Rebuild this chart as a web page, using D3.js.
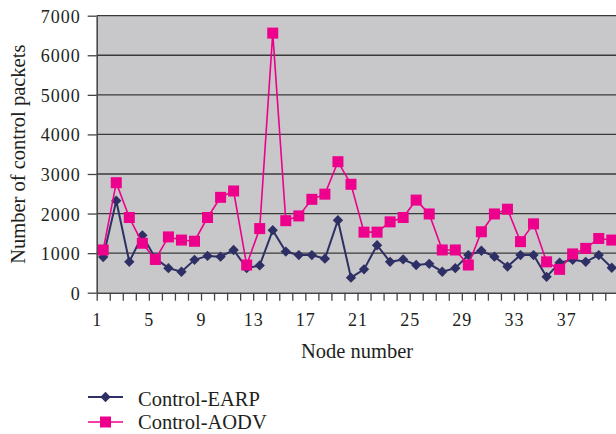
<!DOCTYPE html>
<html>
<head>
<meta charset="utf-8">
<script src="https://cdn.jsdelivr.net/npm/d3@7"></script>
<style>
  body { margin: 0; background: #fff; }
  svg { display: block; font-family: "Liberation Serif", "DejaVu Serif", serif; }
</style>
</head>
<body>
<div id="chart"></div>
<script>
var nodes = d3.range(1, 41);
var earp = [900, 2325, 780, 1450, 870, 620, 530, 830, 930, 910,
            1080, 620, 690, 1580, 1040, 950, 950, 860, 1830, 380,
            590, 1200, 780, 840, 700, 730, 530, 620, 950, 1060,
            910, 660, 950, 950, 400, 760, 830, 780, 950, 630];
var aodv = [1080, 2780, 1900, 1250, 840, 1410, 1330, 1300, 1900, 2410,
            2570, 700, 1620, 6560, 1820, 1940, 2360, 2490, 3310, 2740,
            1530, 1530, 1790, 1900, 2340, 1990, 1080, 1080, 700, 1540,
            1990, 2110, 1290, 1740, 780, 590, 980, 1120, 1370, 1330];
var yTicks = [0, 1000, 2000, 3000, 4000, 5000, 6000, 7000];
var xLabels = [1, 5, 9, 13, 17, 21, 25, 29, 33, 37];
var seriesNames = ["Control-EARP", "Control-AODV"];

var width = 616, height = 434;
var plotLeft = 96.7, plotTop = 15.7, plotBottom = 292.7, step = 13.04;
var plotRight = plotLeft + nodes.length * step;

var navy = "#2e2f64", pink = "#ec008c";

var svg = d3.select("#chart").append("svg")
    .attr("width", width)
    .attr("height", height);

// category edges: node n spans [n, n+1]
var x = d3.scaleLinear().domain([1, nodes.length + 1]).range([plotLeft, plotRight]);
var y = d3.scaleLinear().domain([0, 7000]).range([plotBottom, plotTop]);

svg.append("rect")
    .attr("x", plotLeft).attr("y", plotTop)
    .attr("width", plotRight - plotLeft).attr("height", plotBottom - plotTop)
    .attr("fill", "#c8c8ca");

svg.append("g").selectAll("line")
    .data(yTicks.slice(1))
    .enter().append("line")
    .attr("x1", plotLeft).attr("x2", plotRight)
    .attr("y1", function(d) { return y(d); })
    .attr("y2", function(d) { return y(d); })
    .attr("stroke", "#3a3a3a")
    .attr("stroke-width", 1.3);

var yAxis = svg.append("g")
    .attr("transform", "translate(" + plotLeft + ",0)")
    .call(d3.axisLeft(y).tickValues(yTicks).tickFormat(d3.format("d"))
        .tickSize(9).tickSizeOuter(0).tickPadding(7));
yAxis.select(".domain").attr("stroke", "#444").attr("stroke-width", 1.5);
yAxis.selectAll(".tick line").attr("stroke", "#444").attr("stroke-width", 1.3);
yAxis.selectAll("text")
    .attr("font-size", 18).attr("fill", "#231f20")
    .attr("letter-spacing", 1).attr("dy", "0.36em")
    .style("font-family", "Liberation Serif, serif");

var xAxis = svg.append("g")
    .attr("transform", "translate(0," + plotBottom + ")")
    .call(d3.axisBottom(x).tickValues(d3.range(1, nodes.length + 2))
        .tickSize(8).tickSizeOuter(0).tickPadding(13)
        .tickFormat(function(d) { return xLabels.indexOf(d) >= 0 ? d : ""; }));
xAxis.select(".domain").attr("stroke", "#444").attr("stroke-width", 1.5);
xAxis.selectAll(".tick line").attr("stroke", "#444").attr("stroke-width", 1.3);
xAxis.selectAll("text")
    .attr("font-size", 18).attr("fill", "#231f20")
    .attr("letter-spacing", 1)
    .style("font-family", "Liberation Serif, serif");

var line = d3.line()
    .x(function(d, i) { return x(nodes[i] + 0.5); })
    .y(function(d) { return y(d); });

function diamond(g, cx, cy) {
    g.append("path")
        .attr("d", d3.symbol().type(d3.symbolDiamond2).size(68)())
        .attr("transform", "translate(" + cx + "," + cy + ")")
        .attr("fill", navy);
}

svg.append("path").datum(earp)
    .attr("d", line).attr("fill", "none")
    .attr("stroke", navy).attr("stroke-width", 2);

var earpPts = svg.append("g");
earp.forEach(function(d, i) { diamond(earpPts, x(nodes[i] + 0.5), y(d)); });

svg.append("path").datum(aodv)
    .attr("d", line).attr("fill", "none")
    .attr("stroke", pink).attr("stroke-width", 1.6);

svg.append("g").selectAll("rect")
    .data(aodv)
    .enter().append("rect")
    .attr("x", function(d, i) { return x(nodes[i] + 0.5) - 5.5; })
    .attr("y", function(d) { return y(d) - 5.5; })
    .attr("width", 11).attr("height", 11)
    .attr("fill", pink);

svg.append("text")
    .attr("x", 357).attr("y", 358)
    .attr("text-anchor", "middle")
    .attr("font-size", 20.5).attr("fill", "#231f20")
    .text("Node number");

svg.append("text")
    .attr("transform", "translate(25," + ((plotTop + plotBottom) / 2) + ") rotate(-90)")
    .attr("text-anchor", "middle")
    .attr("font-size", 20.5).attr("fill", "#231f20")
    .text("Number of control packets");

// legend
var legendRows = [
    { name: seriesNames[0], color: navy, ly: 397, ty: 406 },
    { name: seriesNames[1], color: pink, ly: 422, ty: 429 }
];
var legend = svg.append("g");
legendRows.forEach(function(r, i) {
    legend.append("line")
        .attr("x1", 88).attr("x2", 123)
        .attr("y1", r.ly).attr("y2", r.ly)
        .attr("stroke", r.color).attr("stroke-width", i === 0 ? 2 : 1.6);
    if (i === 0) {
        diamond(legend, 105.5, r.ly);
    } else {
        legend.append("rect")
            .attr("x", 100).attr("y", r.ly - 5.5)
            .attr("width", 11).attr("height", 11)
            .attr("fill", r.color);
    }
    legend.append("text")
        .attr("x", 138).attr("y", r.ty)
        .attr("font-size", 20.5).attr("fill", "#231f20")
        .text(r.name);
});
</script>
</body>
</html>
